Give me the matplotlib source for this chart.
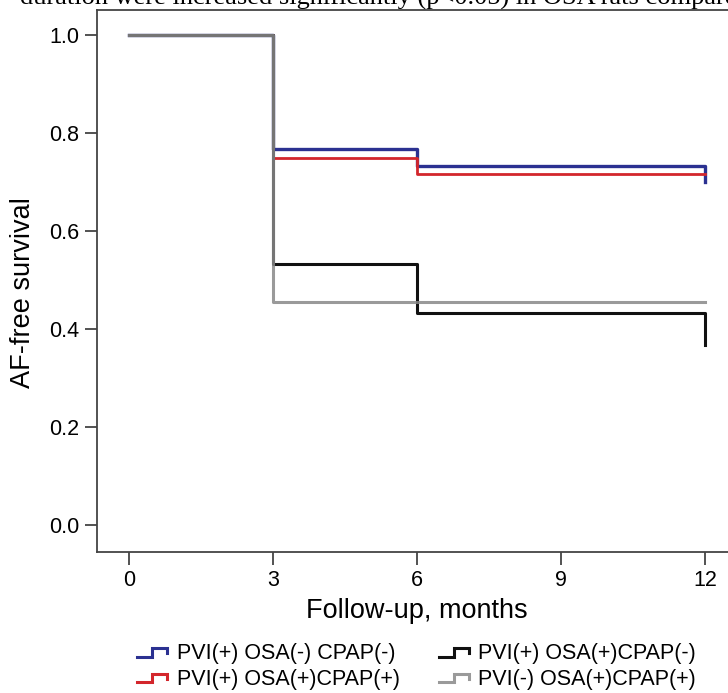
import matplotlib
matplotlib.use("Agg")
import matplotlib.pyplot as plt
from matplotlib.lines import Line2D
from matplotlib.legend_handler import HandlerBase

plt.rcParams['font.family'] = ['Liberation Sans', 'DejaVu Sans']

# Kaplan-Meier step data (months, AF-free survival)
t_blue = [0, 3, 6, 12]
s_blue = [1.0, 0.767, 0.733, 0.700]
t_red = [0, 3, 6, 12]
s_red = [1.0, 0.750, 0.717, 0.717]
t_black = [0, 3, 6, 12]
s_black = [1.0, 0.533, 0.433, 0.367]
t_gray = [0, 3, 12]
s_gray = [1.0, 0.455, 0.455]

labels = ["PVI(+) OSA(-) CPAP(-)", "PVI(+) OSA(+)CPAP(+)",
          "PVI(+) OSA(+)CPAP(-)", "PVI(-) OSA(+)CPAP(+)"]
xticks = [0, 3, 6, 9, 12]
yticks = [0.0, 0.2, 0.4, 0.6, 0.8, 1.0]


class StepHandler(HandlerBase):
    # little step glyph used as legend key
    def create_artists(self, legend, orig_handle, xdescent, ydescent,
                       width, height, fontsize, trans):
        x0, y0 = -xdescent, -ydescent
        xs = [x0, x0 + 0.5 * width, x0 + 0.5 * width, x0 + width, x0 + width]
        ys = [y0 + 0.15 * height, y0 + 0.15 * height, y0 + 0.7 * height,
              y0 + 0.7 * height, y0 + 0.4 * height]
        ln = Line2D(xs, ys, color=orig_handle.get_color(),
                    alpha=orig_handle.get_alpha(), lw=2.2, solid_joinstyle='miter')
        ln.set_transform(trans)
        return [ln]


fig = plt.figure(figsize=(7.28, 6.93), dpi=100)
ax = fig.add_axes([97 / 728, 1 - 552 / 693, 640 / 728, 542 / 693])

l1, = ax.step(t_blue, s_blue, where='post', color='#2b3191', lw=2.4)
l2, = ax.step(t_red, s_red, where='post', color='#d3262c', lw=2.0)
l3, = ax.step(t_black, s_black, where='post', color='#111111', lw=2.2)
l4, = ax.step(t_gray, s_gray, where='post', color='#888888', alpha=0.85, lw=2.2)

ax.set_xlim(-0.667, 12.667)
ax.set_ylim(-0.055, 1.051)
ax.set_xticks(xticks)
ax.set_xticklabels([str(v) for v in xticks])
ax.set_yticks(yticks)
ax.set_yticklabels(["%.1f" % v for v in yticks])
ax.tick_params(labelsize=15.5, length=9, width=1.3, color='#444444', pad=4)
for sp in ax.spines.values():
    sp.set_color('#444444')
    sp.set_linewidth(1.3)

ax.set_xlabel("Follow-up, months", fontsize=19.5, labelpad=5)
ax.set_ylabel("AF-free survival", fontsize=19.5, labelpad=9)
ax.yaxis.label.set_y(0.478)

fig.legend([l1, l2, l3, l4], labels, ncol=2, loc='upper left',
           bbox_to_anchor=(137 / 728, 1 - 643 / 693), frameon=False,
           borderpad=0, borderaxespad=0,
           fontsize=15.5, handlelength=1.4, handletextpad=0.45,
           columnspacing=1.8, labelspacing=0.22,
           handler_map={Line2D: StepHandler()})

# cut-off caption text from the page above the figure
fig.text(20 / 728, 1 - 5 / 693,
         "duration were increased significantly (p<0.05) in OSA rats compared",
         fontsize=19, family='Liberation Serif', va='baseline', ha='left')

fig.savefig("out.png", dpi=100)
